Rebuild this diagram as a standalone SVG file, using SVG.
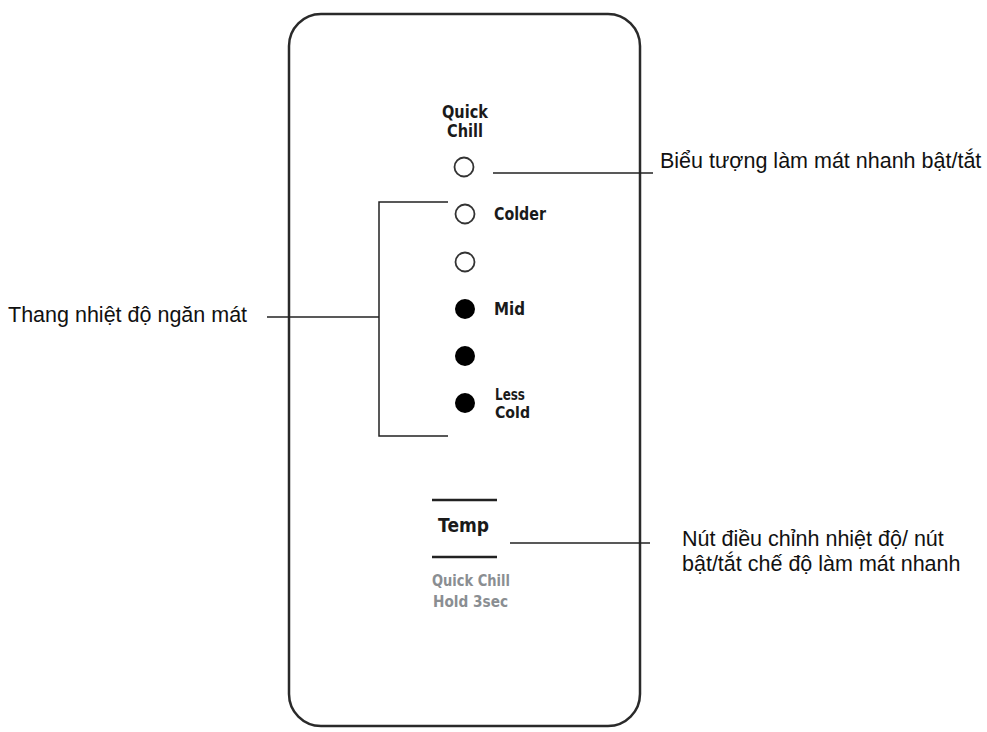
<svg xmlns="http://www.w3.org/2000/svg" width="987" height="732" viewBox="0 0 987 732">
<style>
.panel{fill:#fff;stroke:#2a2a2a;stroke-width:2.5}
.lbl{font-family:"Liberation Sans",Arial,sans-serif;font-size:21.5px;fill:#111}
.pt{font-family:"DejaVu Sans",sans-serif;font-weight:bold;font-size:18px;fill:#1a1a1a}
.sm{font-size:16px}
.gt{font-family:"DejaVu Sans",sans-serif;font-weight:bold;font-size:15px;fill:#8a8e92}
.led-off{fill:#fff;stroke:#333;stroke-width:1.8}
.led-on{fill:#000}
.ln{stroke:#222;stroke-width:1.5;fill:none}
.bar{stroke:#222;stroke-width:2.5}
</style>
<rect width="987" height="732" fill="#fff"/>
<g id="panel">
<rect class="panel" x="289" y="14" width="351" height="712" rx="32"/>
</g>
<g id="quick-chill">
<text class="pt" x="442" y="118" textLength="46" lengthAdjust="spacingAndGlyphs">Quick</text>
<text class="pt" x="447" y="137" textLength="36" lengthAdjust="spacingAndGlyphs">Chill</text>
<circle class="led-off" cx="464" cy="167" r="9.5"/>
</g>
<g id="led-colder">
<circle class="led-off" cx="465" cy="214" r="9.5"/>
<text class="pt" x="494" y="220" textLength="52" lengthAdjust="spacingAndGlyphs">Colder</text>
</g>
<g id="led-2"><circle class="led-off" cx="465" cy="262" r="9.5"/></g>
<g id="led-mid">
<circle class="led-on" cx="465" cy="309" r="10"/>
<text class="pt" x="494" y="315" textLength="31" lengthAdjust="spacingAndGlyphs">Mid</text>
</g>
<g id="led-4"><circle class="led-on" cx="465" cy="356" r="10"/></g>
<g id="led-less-cold">
<circle class="led-on" cx="465" cy="403" r="10"/>
<text class="pt sm" x="495" y="400" textLength="30" lengthAdjust="spacingAndGlyphs">Less</text>
<text class="pt sm" x="495" y="418" textLength="35" lengthAdjust="spacingAndGlyphs">Cold</text>
</g>
<g id="temp-button">
<line class="bar" x1="432" y1="500" x2="497" y2="500"/>
<text class="pt" x="438" y="532" textLength="51" lengthAdjust="spacingAndGlyphs" style="font-size:19px">Temp</text>
<line class="bar" x1="432" y1="557" x2="497" y2="557"/>
<text class="gt" x="432" y="586" textLength="78" lengthAdjust="spacingAndGlyphs">Quick Chill</text>
<text class="gt" x="433" y="607" textLength="75" lengthAdjust="spacingAndGlyphs">Hold 3sec</text>
</g>
<g id="label-quick-chill">
<text class="lbl" x="660" y="168">Biểu tượng làm mát nhanh bật/tắt</text>
</g>
<g id="label-scale">
<text class="lbl" x="8" y="322">Thang nhiệt độ ngăn mát</text>
</g>
<g id="label-temp">
<text class="lbl" x="682" y="546">Nút điều chỉnh nhiệt độ/ nút</text>
<text class="lbl" x="682" y="571">bật/tắt chế độ làm mát nhanh</text>
</g>
<g id="connectors">
<line class="ln" x1="493" y1="173" x2="653" y2="173"/>
<polyline class="ln" points="448,202 379,202 379,436 448,436"/>
<line class="ln" x1="267" y1="317" x2="379" y2="317"/>
<line class="ln" x1="510" y1="543" x2="650" y2="543"/>
</g>
</svg>
